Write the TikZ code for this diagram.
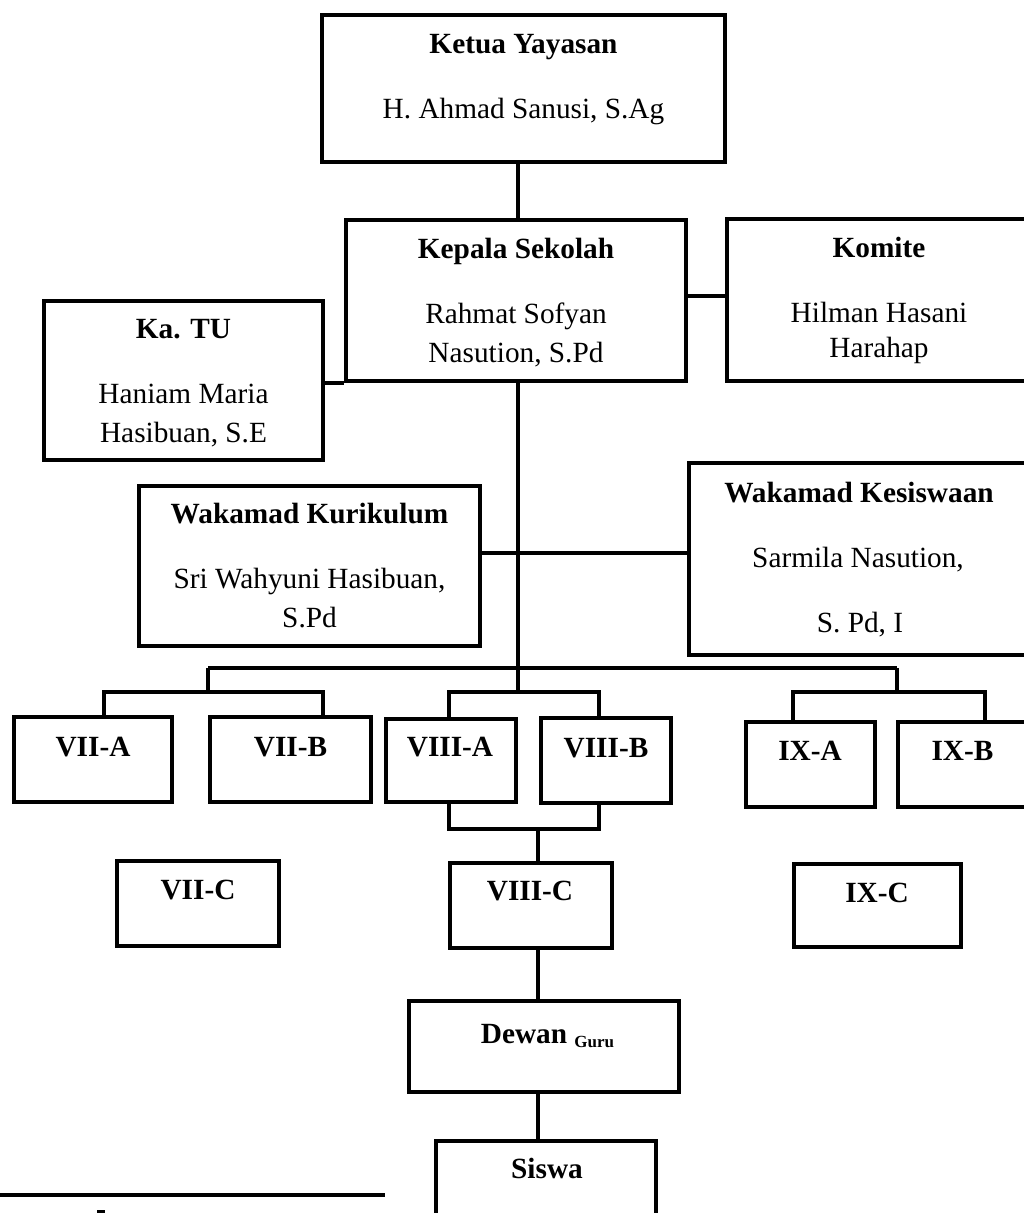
\documentclass[tikz,border=0pt]{standalone}
\usepackage{fontspec}
\setmainfont{Liberation Serif}
\begin{document}
\begin{tikzpicture}[x=1pt,y=-1pt,
  box/.style={draw, line width=3.8pt, rectangle, inner sep=0pt},
  conn/.style={line width=3.2pt},
  ttl/.style={anchor=base, font=\fontsize{29.3}{35}\selectfont\bfseries, inner sep=0pt},
  nm/.style={anchor=base, font=\fontsize{29.3}{35}\selectfont, inner sep=0pt}]
\useasboundingbox (0,0) rectangle (1024,1213);
\clip (0,0) rectangle (1024,1213);

% boxes
\node[box, minimum width=403pt, minimum height=147pt] (ketua) at (523.5,88.5) {};
\node[box, minimum width=340pt, minimum height=161pt] (kepala) at (516,300.5) {};
\node[box, minimum width=333pt, minimum height=162pt] (komite) at (893.5,300) {};
\node[box, minimum width=279pt, minimum height=159pt] (katu) at (183.5,380.5) {};
\node[box, minimum width=341pt, minimum height=160pt] (kurik) at (309.5,566) {};
\node[box, minimum width=371pt, minimum height=192pt] (kesis) at (874.5,559) {};
\node[box, minimum width=158pt, minimum height=85pt] (viiA) at (93,759.5) {};
\node[box, minimum width=161pt, minimum height=85pt] (viiB) at (290.5,759.5) {};
\node[box, minimum width=130pt, minimum height=83pt] (viiiA) at (451,760.5) {};
\node[box, minimum width=130pt, minimum height=85pt] (viiiB) at (606,760.5) {};
\node[box, minimum width=129pt, minimum height=85pt] (ixA) at (810.5,764.5) {};
\node[box, minimum width=162pt, minimum height=85pt] (ixB) at (979,764.5) {};
\node[box, minimum width=162pt, minimum height=85pt] (viiC) at (198,903.5) {};
\node[box, minimum width=162pt, minimum height=85pt] (viiiC) at (531,905.5) {};
\node[box, minimum width=167pt, minimum height=83pt] (ixC) at (877.5,905.5) {};
\node[box, minimum width=270pt, minimum height=91pt] (dewan) at (544,1046.5) {};
\node[box, minimum width=220pt, minimum height=119pt] (siswa) at (546,1200.5) {};

% helper coordinates
\coordinate (tx) at (518,0);
\coordinate (mid) at (518,553);
\coordinate (b7) at (208,668);
\coordinate (b9) at (897,668);
\coordinate (br) at (518,692);

% connectors
\draw[conn] (ketua.south -| tx) -- (kepala.north -| tx);
\draw[conn] (kepala.east |- 0,296) -- (komite.west |- 0,296);
\draw[conn] (katu.east |- kepala.south) -- (kepala.south west);
\draw[conn] (kepala.south -| tx) -- (br);
\draw[conn] (kurik.east |- mid) -- (kesis.west |- mid);
\draw[conn] (b7) -- (b9);
\draw[conn] (b7) -- (208,692);
\draw[conn] (viiA.north -| 104,0) -- (104,692) -- (323,692) -- (viiB.north -| 323,0);
\draw[conn] (viiiA.north -| 449,0) -- (449,692) -- (599,692) -- (viiiB.north -| 599,0);
\draw[conn] (viiiA.south -| 449,0) -- (449,829) -- (599,829) -- (viiiB.south -| 599,0);
\draw[conn] (538,829) -- (viiiC.north -| 538,0);
\draw[conn] (b9) -- (897,692);
\draw[conn] (ixA.north -| 793,0) -- (793,692) -- (985,692) -- (ixB.north -| 985,0);
\draw[conn] (viiiC.south -| 538,0) -- (dewan.north -| 538,0);
\draw[conn] (dewan.south -| 538,0) -- (siswa.north -| 538,0);

% footnote rule
\draw[line width=3.3pt] (0,1195) -- (385,1195);
\fill (97,1210) rectangle (105,1213);

% texts
\node[ttl] (t1) at (523.5,53) {Ketua Yayasan};
\node[nm]  (t2) at (523.5,118) {H. Ahmad Sanusi, S.Ag};
\node[ttl] (t3) at (516,258) {Kepala Sekolah};
\node[nm]  (t4) at (516,323) {Rahmat Sofyan};
\node[nm]  (t5) at (516,362) {Nasution, S.Pd};
\node[ttl] (t6) at (879,257) {Komite};
\node[nm]  (t7) at (879,322) {Hilman Hasani};
\node[nm]  (t8) at (879,357) {Harahap};
\node[ttl] (t9) at (183.5,338) {Ka. TU};
\node[nm]  (t10) at (183.5,403) {Haniam Maria};
\node[nm]  (t11) at (183.5,442) {Hasibuan, S.E};
\node[ttl] (t12) at (309.5,523) {Wakamad Kurikulum};
\node[nm]  (t13) at (309.5,588) {Sri Wahyuni Hasibuan,};
\node[nm]  (t14) at (309.5,627) {S.Pd};
\node[ttl] (t15) at (859,502) {Wakamad Kesiswaan};
\node[nm]  (t16) at (858,567) {Sarmila Nasution,};
\node[nm]  (t17) at (860,632) {S. Pd, I};
\node[ttl] (t18) at (93,756) {VII-A};
\node[ttl] (t19) at (290.5,756) {VII-B};
\node[ttl] (t20) at (450,756) {VIII-A};
\node[ttl] (t21) at (606,757) {VIII-B};
\node[ttl] (t22) at (810,760) {IX-A};
\node[ttl] (t23) at (962.5,760) {IX-B};
\node[ttl] (t24) at (198,899) {VII-C};
\node[ttl] (t25) at (530,900) {VIII-C};
\node[ttl] (t26) at (877,902) {IX-C};
\node[ttl] (t27) at (547.5,1043) {Dewan \raisebox{-4pt}{\fontsize{17}{17}\selectfont Guru}};
\node[ttl] (t28) at (547,1178) {Siswa};
\end{tikzpicture}
\end{document}
